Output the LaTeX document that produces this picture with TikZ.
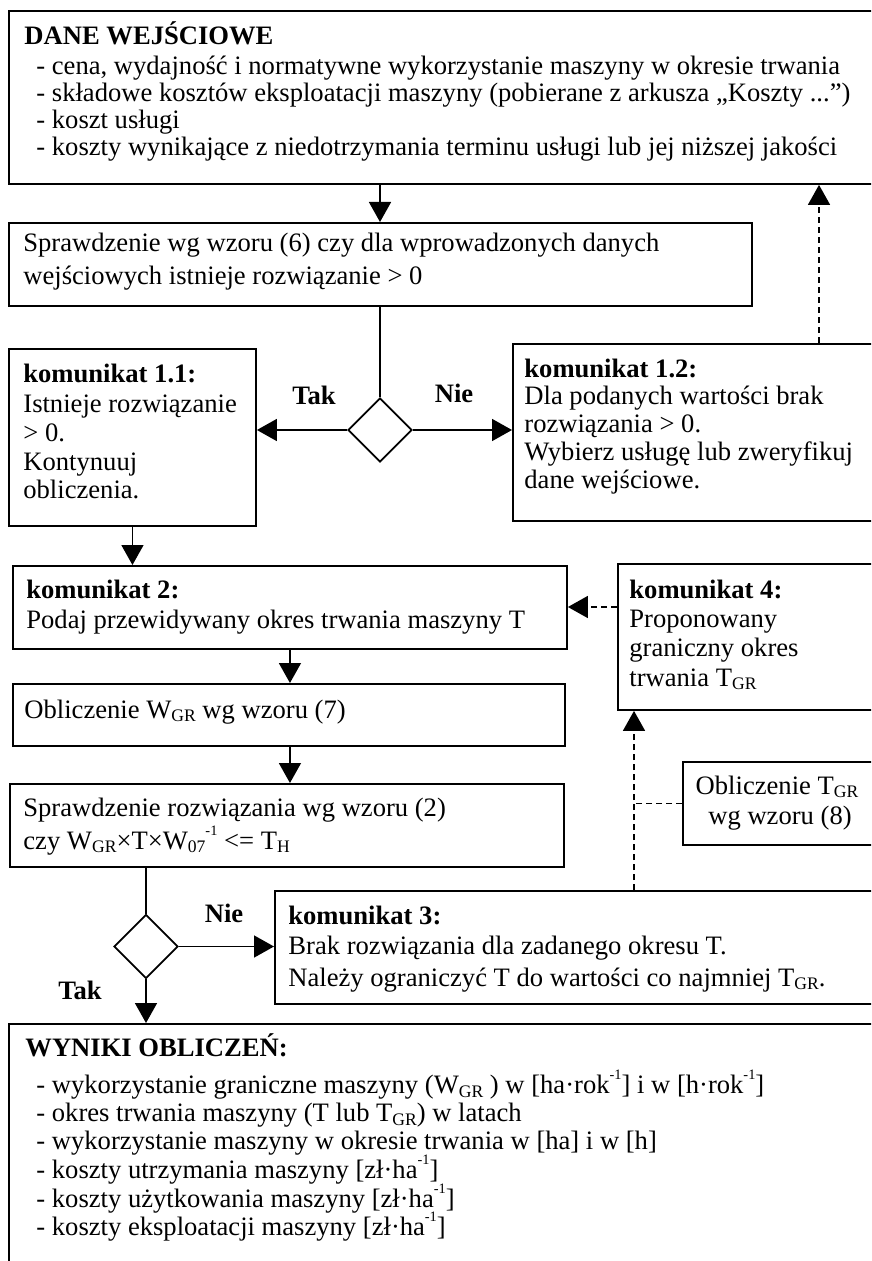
\documentclass[tikz,border=0pt]{standalone}
\usepackage{fontspec}
\setmainfont{Liberation Serif}
\usetikzlibrary{arrows.meta,shapes.geometric}
\newcommand\lsub[1]{\raisebox{-0.15em}{\fontsize{8.8pt}{8.8pt}\selectfont #1}}
\newcommand\lsup[1]{\raisebox{0.5em}{\fontsize{7.2pt}{7.2pt}\selectfont #1}}
\begin{document}
\begin{tikzpicture}[x=0.5pt,y=-0.5pt,
 box/.style={draw, line width=0.95pt, rectangle, inner sep=0pt, anchor=north west},
 txt/.style={anchor=base west, inner sep=0pt, font=\fontsize{13.3pt}{14pt}\selectfont},
 bt/.style={txt, font=\fontsize{13.3pt}{14pt}\selectfont\bfseries},
 dec/.style={draw, diamond, line width=0.9pt, minimum width=32pt, minimum height=32pt, inner sep=0pt},
 arr/.style={line width=0.8pt, -{Triangle[length=10pt,width=11pt]}},
 darr/.style={line width=0.8pt, dash pattern=on 3pt off 2pt, -{Triangle[length=10pt,width=11pt]}},
 dln/.style={line width=0.8pt, dash pattern=on 3pt off 2pt}]
\useasboundingbox (0,0) rectangle (871,1261);
\clip (0,0) rectangle (871,1261);
% boxes
\node[box, minimum width=440pt, minimum height=86.5pt] (b1) at (8,10) {};
\node[box, minimum width=371.5pt, minimum height=41.5pt] (b2) at (8,222) {};
\node[box, minimum width=123.5pt, minimum height=88.5pt] (b11) at (8,348) {};
\node[box, minimum width=190pt, minimum height=88.5pt] (b12) at (512,343) {};
\node[box, minimum width=277pt, minimum height=41.5pt] (k2) at (12,565) {};
\node[box, minimum width=135pt, minimum height=73pt] (k4) at (617,563) {};
\node[box, minimum width=276pt, minimum height=31pt] (wgr) at (12,683) {};
\node[box, minimum width=277pt, minimum height=41.5pt] (spr) at (9,783) {};
\node[box, minimum width=100pt, minimum height=41.5pt] (tgr) at (682,761) {};
\node[box, minimum width=300pt, minimum height=56.5pt] (k3) at (274,890) {};
\node[box, minimum width=440pt, minimum height=130pt] (wyn) at (8,1023) {};
\node[dec] (d1) at (380,430) {};
\node[dec] (d2) at (146,946.5) {};
% texts
\node[bt] (t1a) at (24,45) {DANE WEJŚCIOWE};
\node[txt] (t1b) at (36,75) {- cena, wydajność i normatywne wykorzystanie maszyny w okresie trwania};
\node[txt] (t1c) at (36,102) {- składowe kosztów eksploatacji maszyny (pobierane z arkusza „Koszty ...”)};
\node[txt] (t1d) at (36,129) {- koszt usługi};
\node[txt] (t1e) at (36,156) {- koszty wynikające z niedotrzymania terminu usługi lub jej niższej jakości};
\node[txt] (t2a) at (23,252) {Sprawdzenie wg wzoru (6) czy dla wprowadzonych danych};
\node[txt] (t2b) at (23,285) {wejściowych istnieje rozwiązanie > 0};
\node[bt] (t3a) at (23,383) {komunikat 1.1:};
\node[txt] (t3b) at (23,412) {Istnieje rozwiązanie};
\node[txt] (t3c) at (23,441) {> 0.};
\node[txt] (t3d) at (23,470) {Kontynuuj};
\node[txt] (t3e) at (23,498) {obliczenia.};
\node[bt] (t4a) at (524,378) {komunikat 1.2:};
\node[txt] (t4b) at (524,405) {Dla podanych wartości brak};
\node[txt] (t4c) at (524,432) {rozwiązania > 0.};
\node[txt] (t4d) at (524,460) {Wybierz usługę lub zweryfikuj};
\node[txt] (t4e) at (524,488) {dane wejściowe.};
\node[bt] (t5a) at (26,598) {komunikat 2:};
\node[txt] (t5b) at (26,628) {Podaj przewidywany okres trwania maszyny T};
\node[bt] (t6a) at (629,598) {komunikat 4:};
\node[txt] (t6b) at (629,627) {Proponowany};
\node[txt] (t6c) at (629,656) {graniczny okres};
\node[txt] (t6d) at (629,686) {trwania T\lsub{GR}};
\node[txt] (t7) at (24,718) {Obliczenie W\lsub{GR} wg wzoru (7)};
\node[txt] (t8a) at (23,816) {Sprawdzenie rozwiązania wg wzoru (2)};
\node[txt] (t8b) at (23,849) {czy W\lsub{GR}×T×W\lsub{07}\lsup{-1} <= T\lsub{H}};
\node[txt, anchor=base] (t9a) at (777,794) {Obliczenie T\lsub{GR}};
\node[txt, anchor=base] (t9b) at (780,824) {wg wzoru (8)};
\node[bt] (t10a) at (288,924) {komunikat 3:};
\node[txt] (t10b) at (288,954) {Brak rozwiązania dla zadanego okresu T.};
\node[txt] (t10c) at (288,986) {Należy ograniczyć T do wartości co najmniej T\lsub{GR}.};
\node[bt] (t11a) at (25,1056) {WYNIKI OBLICZEŃ:};
\node[txt] (t11b) at (36,1093) {- wykorzystanie graniczne maszyny (W\lsub{GR} ) w [ha·rok\lsup{-1}] i w [h·rok\lsup{-1}]};
\node[txt] (t11c) at (36,1121) {- okres trwania maszyny (T lub T\lsub{GR}) w latach};
\node[txt] (t11d) at (36,1149) {- wykorzystanie maszyny w okresie trwania w [ha] i w [h]};
\node[txt] (t11e) at (36,1178) {- koszty utrzymania maszyny [zł·ha\lsup{-1}]};
\node[txt] (t11f) at (36,1207) {- koszty użytkowania maszyny [zł·ha\lsup{-1}]};
\node[txt] (t11g) at (36,1235) {- koszty eksploatacji maszyny [zł·ha\lsup{-1}]};
% labels
\node[bt, anchor=center] (tak1) at (314,395) {Tak};
\node[bt, anchor=center] (nie1) at (454,393) {Nie};
\node[bt, anchor=center] (nie2) at (224,913) {Nie};
\node[bt, anchor=center] (tak2) at (80,990) {Tak};
% connectors
\coordinate (c1) at (819,0);
\coordinate (c2) at (0,607);
\coordinate (c3) at (634,0);
\draw[arr] (b1.south -| d1.north) -- (b2.north -| d1.north);
\draw[line width=0.8pt] (b2.south -| d1.north) -- (d1.north);
\draw[arr] (d1.west) -- (b11.east |- d1.west);
\draw[arr] (d1.east) -- (b12.west |- d1.east);
\draw[darr] (b12.north -| c1) -- (b1.south -| c1);
\draw[arr] (b11.south) -- (b11.south |- k2.north);
\draw[darr] (k4.west |- c2) -- (k2.east |- c2);
\draw[arr] (k2.south) -- (k2.south |- wgr.north);
\draw[arr] (wgr.south -| k2.south) -- (spr.north -| k2.south);
\draw[line width=0.8pt] (spr.south -| d2.north) -- (d2.north);
\draw[arr] (d2.east) -- (k3.west |- d2.east);
\draw[arr] (d2.south) -- (wyn.north -| d2.south);
\draw[darr] (k3.north -| c3) -- (k4.south -| c3);
\draw[dln] (tgr.west) -- (tgr.west -| c3);
\end{tikzpicture}
\end{document}
